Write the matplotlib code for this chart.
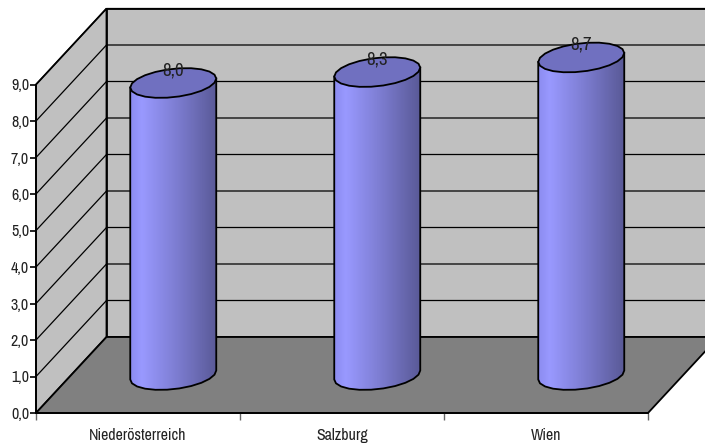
#!/usr/bin/env python3
"""3D style cylinder chart per Bundesland"""

import numpy as np
import matplotlib.pyplot as plt
from matplotlib.colors import LinearSegmentedColormap
from matplotlib.patches import Polygon

categories = ['Niederösterreich', 'Salzburg', 'Wien']
values = [8.0, 8.3, 8.7]
value_labels = ['8,0', '8,3', '8,7']
y_ticks = [0, 1, 2, 3, 4, 5, 6, 7, 8, 9]
y_tick_labels = ['0,0', '1,0', '2,0', '3,0', '4,0', '5,0', '6,0', '7,0', '8,0', '9,0']

WIDTH, HEIGHT = 705, 445
LEFT, RIGHT, BOTTOM, TOP = 36, 648, 413, 84.5
PX_X = (RIGHT - LEFT) / len(categories)
PX_Y = (BOTTOM - TOP) / 9

# Depth of the box, in data units
DEPTH_X = 70.5 / PX_X
DEPTH_Y = 76 / PX_Y

# Cylinder cross section, also in data units
RADIUS = 43 / PX_X
MINOR = 14.2 / PX_Y
SHEAR = 4.5 / PX_Y

plt.rcParams['font.family'] = ['Archivo Narrow', 'Liberation Sans', 'DejaVu Sans']
plt.rcParams['font.size'] = 11.5
plt.rcParams['text.color'] = '#222222'
plt.rcParams['xtick.labelcolor'] = '#222222'
plt.rcParams['ytick.labelcolor'] = '#222222'

fig = plt.figure(figsize=(WIDTH / 100, HEIGHT / 100), dpi=100)
ax = fig.add_axes([LEFT / WIDTH, (HEIGHT - BOTTOM) / HEIGHT,
                   (RIGHT - LEFT) / WIDTH, (BOTTOM - TOP) / HEIGHT])
ax.set_xlim(0, len(categories))
ax.set_ylim(0, 9)
ax.patch.set_visible(False)


def face(points, color, zorder):
    ax.add_patch(Polygon(points, closed=True, facecolor=color, edgecolor='black',
                         linewidth=1.3, clip_on=False, zorder=zorder))


# Side wall, back wall and floor
face([(0, 0), (DEPTH_X, DEPTH_Y), (DEPTH_X, 9 + DEPTH_Y), (0, 9)], '#C0C0C0', 1)
face([(DEPTH_X, DEPTH_Y), (3 + DEPTH_X, DEPTH_Y), (3 + DEPTH_X, 9 + DEPTH_Y),
      (DEPTH_X, 9 + DEPTH_Y)], '#C0C0C0', 1)
face([(0, 0), (3, 0), (3 + DEPTH_X, DEPTH_Y), (DEPTH_X, DEPTH_Y)], '#808080', 1.5)

# Gridlines run along the side wall and then along the back wall
for tick in y_ticks[1:]:
    ax.plot([0, DEPTH_X, 3 + DEPTH_X], [tick, tick + DEPTH_Y, tick + DEPTH_Y],
            color='black', linewidth=0.9, clip_on=False, zorder=2)

shade = LinearSegmentedColormap.from_list(
    'cyl', [(0, '#8C8CF0'), (0.13, '#9999FF'), (0.55, '#7C7CD0'), (1, '#5A5A98')])
gradient = np.linspace(0, 1, 64).reshape(1, -1)


def ellipse(cx, cy, start=0.0, stop=2 * np.pi, count=23):
    # Coarse outline, the tilted cross section of a cylinder
    t = np.linspace(start, stop, count)
    x = cx + RADIUS * np.cos(t)
    y = cy + MINOR * np.sin(t) + SHEAR * np.cos(t)
    return np.column_stack([x, y])


for i, (value, label) in enumerate(zip(values, value_labels)):
    cx = i + 0.5 + DEPTH_X / 2
    base = DEPTH_Y / 2
    top = base + value

    # Body: lower half of the base ellipse, closed off under the top ellipse
    low = ellipse(cx, base, np.pi, 2 * np.pi, 12)
    body = Polygon(np.vstack([low, [[cx + RADIUS, top + SHEAR]], [[cx - RADIUS, top - SHEAR]]]),
                   closed=True, facecolor='none', edgecolor='black', linewidth=1.3,
                   clip_on=False, zorder=4)
    ax.add_patch(body)
    img = ax.imshow(gradient, cmap=shade, aspect='auto', zorder=3,
                    extent=(cx - RADIUS, cx + RADIUS, base - 1, top + 1))
    # The tops reach above the axes box, so clip to the figure and the body only
    img.set_clip_box(fig.bbox)
    img.set_clip_path(body)

    face(ellipse(cx, top), '#7070C0', 5)
    ax.annotate(label, (cx, top), xytext=(0, 9), textcoords='offset points',
                ha='center', va='center', fontsize=13.5, zorder=6, annotation_clip=False)

ax.set_xlim(0, len(categories))
ax.set_ylim(0, 9)

for side in ['top', 'right']:
    ax.spines[side].set_visible(False)
for side in ['left', 'bottom']:
    ax.spines[side].set_linewidth(1.3)
    ax.spines[side].set_zorder(2.5)

ax.set_yticks(y_ticks)
ax.set_yticklabels(y_tick_labels)
ax.set_xticks(range(len(categories) + 1))
ax.set_xticklabels([])
ax.set_xticks([i + 0.5 for i in range(len(categories))], minor=True)
ax.set_xticklabels(categories, minor=True)
ax.tick_params(axis='y', length=4, width=1.2, pad=1)
ax.tick_params(axis='x', which='major', length=5, width=1.0, color='#666666')
ax.tick_params(axis='x', which='minor', length=0, pad=11)

plt.savefig('out.png', dpi=100)
